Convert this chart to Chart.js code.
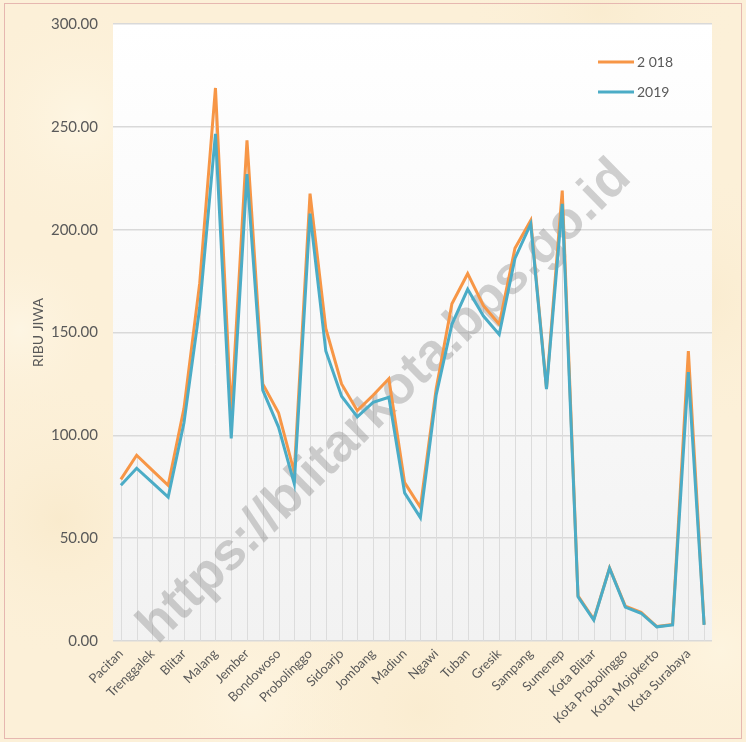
<!DOCTYPE html>
<html>
<head>
<meta charset="utf-8">
<script src="https://cdn.jsdelivr.net/npm/chart.js@4.4.1/dist/chart.umd.min.js"></script>
<style>
  html, body { margin: 0; padding: 0; background: #fcf0d8; }
  #wrap { width: 746px; height: 742px; position: relative; }
  canvas { display: block; }
</style>
</head>
<body>
<div id="wrap"><canvas id="c" width="746" height="742"></canvas></div>
<script>
// ---- Data ----
const categories = [
  "Pacitan", "Ponorogo", "Trenggalek", "Tulungagung", "Blitar", "Kediri", "Malang",
  "Lumajang", "Jember", "Banyuwangi", "Bondowoso", "Situbondo", "Probolinggo",
  "Pasuruan", "Sidoarjo", "Mojokerto", "Jombang", "Nganjuk", "Madiun", "Magetan",
  "Ngawi", "Bojonegoro", "Tuban", "Lamongan", "Gresik", "Bangkalan", "Sampang",
  "Pamekasan", "Sumenep", "Kota Kediri", "Kota Blitar", "Kota Malang",
  "Kota Probolinggo", "Kota Pasuruan", "Kota Mojokerto", "Kota Madiun",
  "Kota Surabaya", "Kota Batu"
];
const values2018 = [
  78.6, 90.3, 83.0, 75.7, 113.0, 174.0, 268.9,
  110.0, 243.4, 125.0, 111.0, 82.0, 217.5,
  152.0, 125.0, 112.0, 119.5, 127.5, 77.0, 65.0,
  122.5, 164.0, 178.6, 163.0, 154.0, 191.0, 204.5,
  123.0, 219.0, 22.0, 10.5, 35.5,
  17.0, 14.0, 7.0, 8.0,
  141.0, 8.0
];
const values2019 = [
  75.7, 84.0, 77.0, 70.0, 106.0, 162.0, 246.6,
  98.5, 227.0, 122.0, 104.0, 76.5, 207.8,
  141.0, 119.0, 109.0, 116.0, 118.5, 72.0, 60.0,
  119.5, 154.0, 171.0, 158.0, 149.0, 186.0, 202.8,
  122.5, 212.6, 21.5, 10.2, 35.4,
  16.5, 13.5, 6.9, 7.8,
  130.8, 7.8
];
const seriesLabels = ["2 018", "2019"];
const yTickValues = [0, 50, 100, 150, 200, 250, 300];
const yAxisTitle = "RIBU JIWA";
const watermarkText = "https://blitarkota.bps.go.id";

const COLOR_2018 = "#f79646";
const COLOR_2019 = "#4bacc6";
const TEXT_COLOR = "#595959";
const FONT = "Lato, 'Open Sans', sans-serif";

// ---- Plugins ----
const backgroundPlugin = {
  id: "bg",
  beforeDraw(chart) {
    const ctx = chart.ctx;
    const W = chart.width, H = chart.height;
    ctx.save();
    ctx.fillStyle = "#fcf0d8";
    ctx.fillRect(0, 0, W, H);
    // soft parchment mottling
    const patches = [
      [80, 120, 120, "rgba(255,250,235,0.55)"],
      [60, 520, 140, "rgba(246,228,192,0.45)"],
      [700, 300, 130, "rgba(247,230,196,0.45)"],
      [420, 710, 160, "rgba(248,232,200,0.45)"],
      [720, 650, 110, "rgba(255,248,230,0.5)"],
      [250, 700, 110, "rgba(255,248,232,0.5)"],
      [20, 330, 90, "rgba(255,250,238,0.5)"],
      [600, 10, 140, "rgba(246,229,194,0.35)"]
    ];
    patches.forEach(([x, y, r, c]) => {
      const g = ctx.createRadialGradient(x, y, 0, x, y, r);
      g.addColorStop(0, c);
      g.addColorStop(1, "rgba(252,240,216,0)");
      ctx.fillStyle = g;
      ctx.fillRect(x - r, y - r, 2 * r, 2 * r);
    });
    // outer thin border
    ctx.strokeStyle = "#e6b7b0";
    ctx.lineWidth = 1;
    ctx.strokeRect(4.5, 3.5, W - 9, H - 7);
    // plot area gradient
    const a = chart.chartArea;
    const pg = ctx.createLinearGradient(0, a.top, 0, a.bottom);
    pg.addColorStop(0, "#ffffff");
    pg.addColorStop(1, "#f2f2f2");
    ctx.fillStyle = pg;
    ctx.fillRect(a.left, a.top, a.right - a.left, a.bottom - a.top);
    ctx.restore();
  },
  beforeDatasetsDraw(chart) {
    const ctx = chart.ctx;
    const xs = chart.scales.x, ys = chart.scales.y;
    ctx.save();
    // drop lines from the highest point of each category to the axis
    ctx.strokeStyle = "#dcdcdc";
    ctx.lineWidth = 1;
    for (let i = 0; i < categories.length; i++) {
      const x = Math.round(xs.getPixelForValue(i)) + 0.5;
      const top = ys.getPixelForValue(Math.max(values2018[i], values2019[i]));
      const bot = ys.getPixelForValue(0);
      ctx.beginPath();
      ctx.moveTo(x, top);
      ctx.lineTo(x, bot);
      ctx.stroke();
    }
    // watermark
    ctx.translate(385, 402);
    ctx.rotate(-Math.atan2(485, 495));
    ctx.font = "bold 53px 'Liberation Sans', Arial, sans-serif";
    ctx.fillStyle = "rgba(128,128,128,0.36)";
    ctx.textAlign = "center";
    ctx.textBaseline = "middle";
    ctx.fillText(watermarkText, 0, 0);
    ctx.restore();
  },
  afterDraw(chart) {
    const ctx = chart.ctx;
    ctx.save();
    const items = [
      { label: chart.data.datasets[0].label, color: chart.data.datasets[0].borderColor, y: 62 },
      { label: chart.data.datasets[1].label, color: chart.data.datasets[1].borderColor, y: 92 }
    ];
    ctx.font = "14px " + FONT;
    ctx.textBaseline = "middle";
    ctx.textAlign = "left";
    items.forEach(it => {
      ctx.strokeStyle = it.color;
      ctx.lineWidth = 3;
      ctx.beginPath();
      ctx.moveTo(598, it.y);
      ctx.lineTo(634, it.y);
      ctx.stroke();
      ctx.fillStyle = TEXT_COLOR;
      ctx.fillText(it.label, 637, it.y);
    });
    ctx.restore();
  }
};

new Chart(document.getElementById("c"), {
  type: "line",
  data: {
    labels: categories,
    datasets: [
      {
        label: seriesLabels[0],
        data: values2018,
        borderColor: COLOR_2018,
        backgroundColor: COLOR_2018,
        borderWidth: 3,
        pointRadius: 0,
        tension: 0,
        fill: false,
        order: 2
      },
      {
        label: seriesLabels[1],
        data: values2019,
        borderColor: COLOR_2019,
        backgroundColor: COLOR_2019,
        borderWidth: 3,
        pointRadius: 0,
        tension: 0,
        fill: false,
        order: 1
      }
    ]
  },
  options: {
    responsive: false,
    animation: false,
    devicePixelRatio: 1,
    layout: { padding: { top: 23, right: 34, bottom: 0, left: 0 } },
    plugins: {
      legend: { display: false },
      tooltip: { enabled: false }
    },
    scales: {
      x: {
        type: "category",
        offset: true,
        grid: { display: false, drawTicks: false },
        border: { display: false },
        ticks: {
          autoSkip: false,
          maxRotation: 45,
          minRotation: 45,
          padding: 5,
          color: TEXT_COLOR,
          font: { family: FONT, size: 13 },
          callback: function (value, index) {
            return index % 2 === 0 ? categories[index] : "";
          }
        },
        afterFit(scale) { scale.height = 101; }
      },
      y: {
        min: 0,
        max: 300,
        afterBuildTicks(scale) {
          scale.ticks = yTickValues.map(v => ({ value: v }));
        },
        grid: { color: "#d9d9d9", lineWidth: 1.5, drawTicks: false },
        border: { display: false },
        ticks: {
          padding: 15,
          color: TEXT_COLOR,
          font: { family: FONT, size: 15 },
          callback: v => Number(v).toFixed(2)
        },
        title: {
          display: true,
          text: yAxisTitle,
          color: TEXT_COLOR,
          font: { family: FONT, size: 14 },
          padding: { top: 30, bottom: 0 }
        },
        afterFit(scale) { scale.width = 113; }
      }
    }
  },
  plugins: [backgroundPlugin]
});
</script>
</body>
</html>
